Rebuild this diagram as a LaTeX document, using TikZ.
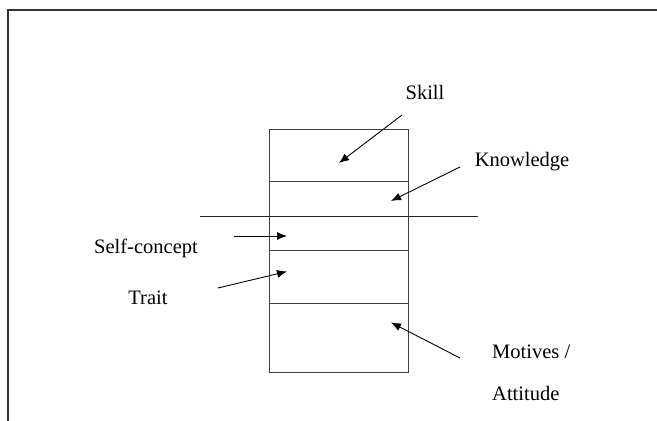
\documentclass[tikz,border=0pt]{standalone}
\usepackage{fontspec}
\setmainfont{Liberation Serif}
\usetikzlibrary{arrows.meta}
\begin{document}
\begin{tikzpicture}[x=1pt,y=-1pt,
  lbl/.style={font=\fontsize{20.5}{22}\selectfont, inner sep=0pt},
  layer/.style={draw=black!75, line width=0.9pt, minimum width=139pt, inner sep=0pt, anchor=north west},
  arr/.style={line width=0.9pt, -{Latex[length=10pt,width=8pt]}},
  frame/.style={draw=black!80, line width=1.3pt}]
\useasboundingbox (0,0) rectangle (657,421);
% frame
\coordinate (f1) at (8,421);
\coordinate (f2) at (8,10);
\coordinate (f3) at (657,10);
\draw[frame] (f1) -- (f2) -- (f3);
% layered box
\node[layer, minimum height=52.5pt] (L1) at (269,128.5) {};
\node[layer, minimum height=68.5pt] (L2) at (269,181) {};
\node[layer, minimum height=53.5pt] (L3) at (269,249.5) {};
\node[layer, minimum height=69pt] (L4) at (269,303) {};
% horizontal cut line
\coordinate (h1) at (200,216);
\coordinate (h2) at (478,216);
\draw[line width=0.9pt, black!85] (h1) -- (h2);
% labels
\node[lbl] (skill) at (425,92) {Skill};
\node[lbl] (know) at (522,162) {Knowledge};
\node[lbl] (self) at (146,248) {Self-concept};
\node[lbl] (trait) at (148,298) {Trait};
\node[lbl, anchor=west] (mot) at (492,352) {Motives /};
\node[lbl, anchor=west] (att) at (492,393) {Attitude};
% arrow ends
\coordinate (s0) at (402,115);  \coordinate (s1) at (339,163);
\coordinate (k0) at (460,167);  \coordinate (k1) at (391,201);
\coordinate (c0) at (234,236);  \coordinate (c1) at (287,236);
\coordinate (t0) at (218,288);  \coordinate (t1) at (287,271.5);
\coordinate (m0) at (460,358);  \coordinate (m1) at (391,322.5);
\draw[arr] (s0) -- (s1);
\draw[arr] (k0) -- (k1);
\draw[arr] (c0) -- (c1);
\draw[arr] (t0) -- (t1);
\draw[arr] (m0) -- (m1);
\end{tikzpicture}
\end{document}
